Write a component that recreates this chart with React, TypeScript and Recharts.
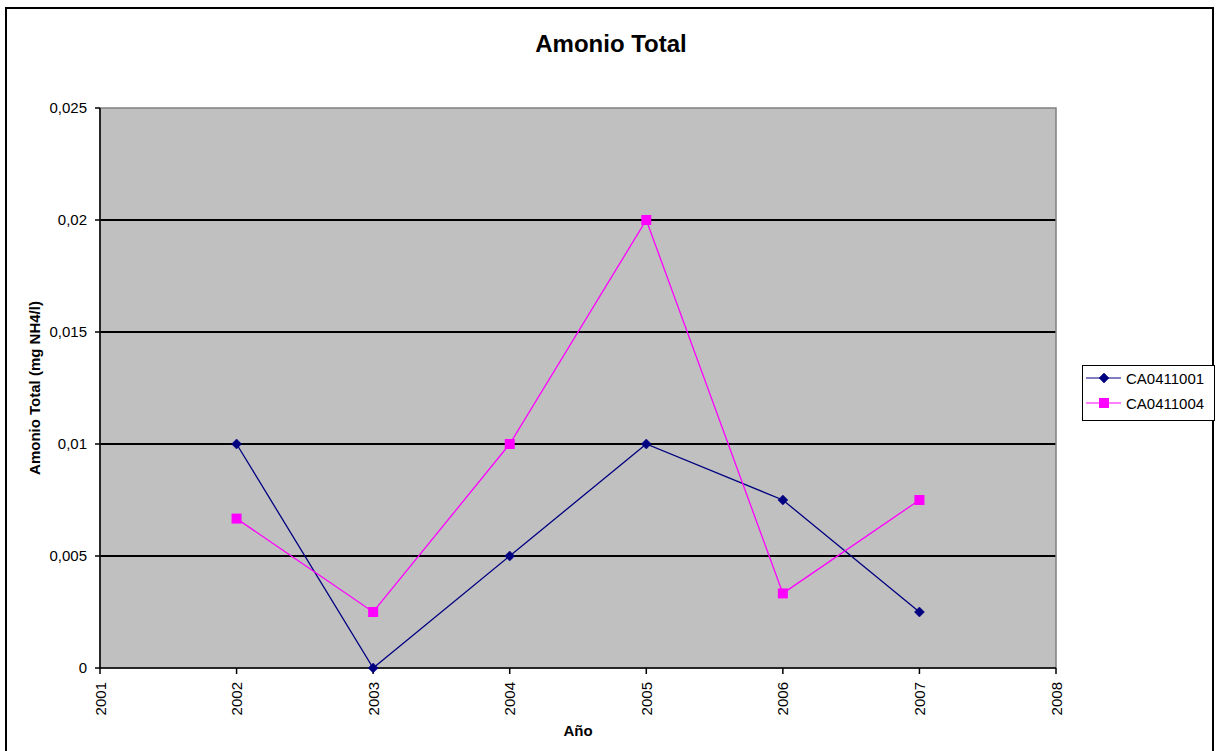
import React from "react"
import {
  LineChart,
  Line,
  XAxis,
  YAxis,
  CartesianGrid,
  ReferenceArea,
} from "recharts"

const years = [2002, 2003, 2004, 2005, 2006, 2007]
const ca0411001 = [0.01, 0, 0.005, 0.01, 0.0075, 0.0025]
const ca0411004 = [0.00667, 0.0025, 0.01, 0.02, 0.00333, 0.0075]
const xTicks = [2001, 2002, 2003, 2004, 2005, 2006, 2007, 2008]
const yTicks = [0, 0.005, 0.01, 0.015, 0.02, 0.025]
const gridValues = [0.005, 0.01, 0.015, 0.02]
const seriesNames = ["CA0411001", "CA0411004"]

const FONT = '"Liberation Sans", Arial, sans-serif'
const NAVY = "#000080"
const MAGENTA = "#FF00FF"

const data = years.map((y, i) => ({ year: y, a: ca0411001[i], b: ca0411004[i] }))

function Diamond({ cx, cy }: any) {
  if (cx == null || cy == null) return null
  const r = 5
  return (
    <path
      d={`M${cx},${cy - r} L${cx + r},${cy} L${cx},${cy + r} L${cx - r},${cy} Z`}
      fill={NAVY}
      stroke={NAVY}
      strokeWidth={0.5}
    />
  )
}

function Square({ cx, cy }: any) {
  if (cx == null || cy == null) return null
  const s = 5
  return <rect x={cx - s} y={cy - s} width={s * 2} height={s * 2} fill={MAGENTA} />
}

function XTick({ x, y, payload }: any) {
  const ty = y + 6
  return (
    <text
      x={x}
      y={ty}
      transform={`rotate(-90 ${x} ${ty})`}
      textAnchor="end"
      dominantBaseline="central"
      fontSize={15}
      fontFamily={FONT}
      fill="#000"
    >
      {payload.value}
    </text>
  )
}

function YLabel({ viewBox }: any) {
  const cx = viewBox.x + 34
  const cy = viewBox.y + viewBox.height / 2
  return (
    <text
      x={cx}
      y={cy}
      transform={`rotate(-90 ${cx} ${cy})`}
      textAnchor="middle"
      dominantBaseline="central"
      fontSize={15}
      fontWeight="bold"
      fontFamily={FONT}
      fill="#000"
    >
      Amonio Total (mg NH4/l)
    </text>
  )
}

function LegendBox() {
  const rows = [
    { name: seriesNames[0], color: NAVY, marker: "diamond" },
    { name: seriesNames[1], color: MAGENTA, marker: "square" },
  ]
  return (
    <div
      style={{
        position: "absolute",
        left: 1082,
        top: 365,
        width: 131,
        height: 54,
        border: "1px solid #000",
        background: "#fff",
        fontFamily: FONT,
        fontSize: 15,
      }}
    >
      {rows.map((r, i) => (
        <div
          key={r.name}
          style={{ position: "absolute", left: 2, top: 2 + i * 25, height: 20, display: "flex", alignItems: "center" }}
        >
          <svg width={38} height={20}>
            <line x1={1} y1={10} x2={36} y2={10} stroke={r.color} strokeWidth={1.2} />
            {r.marker === "diamond" ? <Diamond cx={19} cy={10} /> : <Square cx={19} cy={10} />}
          </svg>
          <span style={{ marginLeft: 3, color: "#000" }}>{r.name}</span>
        </div>
      ))}
    </div>
  )
}

export default function App() {
  return (
    <div style={{ position: "absolute", left: 0, top: 0, width: 1222, height: 751, background: "#fff", overflow: "hidden" }}>
      <div
        style={{
          position: "absolute",
          left: 5,
          top: 7,
          width: 1209,
          height: 760,
          border: "2px solid #000",
          boxSizing: "border-box",
        }}
      />
      <div
        style={{
          position: "absolute",
          left: 0,
          top: 30,
          width: 1222,
          textAlign: "center",
          fontFamily: FONT,
          fontWeight: "bold",
          fontSize: 24,
          color: "#000",
        }}
      >
        Amonio Total
      </div>
      <LineChart
        width={1222}
        height={751}
        data={data}
        margin={{ top: 108, right: 166, bottom: 0, left: 0 }}
        style={{ position: "absolute", left: 0, top: 0 }}
      >
        <CartesianGrid
          vertical={false}
          horizontalValues={gridValues}
          stroke="#000"
          strokeOpacity={1}
          strokeWidth={1.8}
          fill="#C0C0C0"
          fillOpacity={1}
        />
        <ReferenceArea x1={2001} x2={2008} y1={0} y2={0.025} fill="none" stroke="#808080" strokeWidth={1.5} />
        <XAxis
          dataKey="year"
          type="number"
          domain={[2001, 2008]}
          ticks={xTicks}
          interval={0}
          height={83}
          tickSize={6}
          stroke="#000"
          strokeWidth={1.5}
          tick={<XTick />}
          label={{
            value: "Año",
            position: "insideBottom",
            offset: 15,
            fontSize: 15,
            fontWeight: "bold",
            fontFamily: FONT,
            fill: "#000",
          }}
        />
        <YAxis
          type="number"
          domain={[0, 0.025]}
          ticks={yTicks}
          interval={0}
          width={100}
          tickSize={5}
          tickMargin={8}
          stroke="#000"
          strokeWidth={1.5}
          tick={{ fontSize: 15, fontFamily: FONT, fill: "#000" }}
          tickFormatter={(v: number) => String(v).replace(".", ",")}
          label={<YLabel />}
        />
        <Line
          dataKey="a"
          name={seriesNames[0]}
          stroke={NAVY}
          strokeWidth={1.3}
          dot={(p: any) => <Diamond key={`a-${p.index}`} cx={p.cx} cy={p.cy} />}
          activeDot={false}
          isAnimationActive={false}
        />
        <Line
          dataKey="b"
          name={seriesNames[1]}
          stroke={MAGENTA}
          strokeWidth={1.3}
          dot={(p: any) => <Square key={`b-${p.index}`} cx={p.cx} cy={p.cy} />}
          activeDot={false}
          isAnimationActive={false}
        />
      </LineChart>
      <LegendBox />
    </div>
  )
}
